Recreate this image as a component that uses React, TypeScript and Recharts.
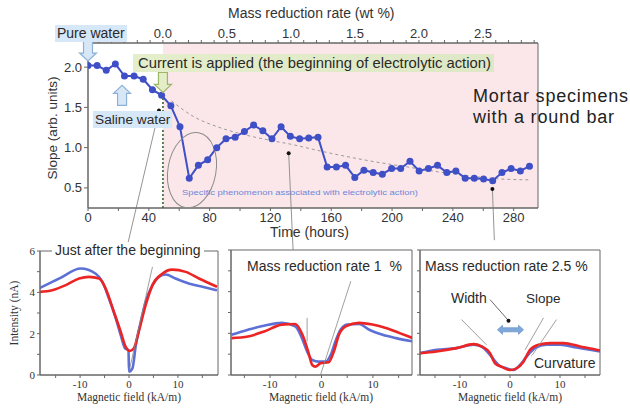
import {
  ComposedChart,
  LineChart,
  Line,
  XAxis,
  YAxis,
  ReferenceArea,
  ReferenceLine,
  ReferenceDot,
} from "recharts";

// ---- top chart data ----
const timeHours = [
  0, 6, 12, 18, 24, 30.3, 36.3, 42.4, 48.4, 54.5, 60.5, 66.6, 72.6, 78.7, 84.7, 90.8, 96.8,
  102.9, 108.9, 115, 121, 127, 133.1, 139.2, 145.2, 151.3, 157.3, 163.4, 169.4, 175.5, 181.5,
  187.6, 193.6, 199.7, 205.7, 211.8, 217.8, 223.9, 229.9, 236, 242, 248.1, 254.1, 260.2, 266.2,
  272.3, 278.3, 284.4, 290.4,
];
const slopeValues = [
  2.02, 2.02, 1.96, 2.04, 1.89, 1.89, 1.85, 1.72, 1.65, 1.52, 1.26, 0.62, 0.78, 0.85, 1.0, 1.11,
  1.13, 1.2, 1.28, 1.21, 1.11, 1.26, 1.14, 1.11, 1.12, 1.13, 0.76, 0.76, 0.78, 0.63, 0.72, 0.69,
  0.67, 0.74, 0.74, 0.83, 0.71, 0.74, 0.78, 0.69, 0.71, 0.62, 0.62, 0.61, 0.59, 0.69, 0.74, 0.71,
  0.77,
];
const trendHours = [55, 70, 85, 103, 120, 134, 150, 170, 190, 210, 230, 250, 272, 290];
const trendValues = [1.58, 1.38, 1.26, 1.16, 1.09, 1.04, 0.97, 0.89, 0.82, 0.76, 0.7, 0.65, 0.61, 0.6];

const timeTicks = [0, 20, 40, 60, 80, 100, 120, 140, 160, 180, 200, 220, 240, 260, 280];
const timeLabels = [0, 40, 80, 120, 160, 200, 240, 280];
const slopeTicks = [0.5, 1.0, 1.5, 2.0];
const massTicks = [
  -0.5, -0.4, -0.3, -0.2, -0.1, 0, 0.1, 0.2, 0.3, 0.4, 0.5, 0.6, 0.7, 0.8, 0.9, 1.0, 1.1, 1.2, 1.3,
  1.4, 1.5, 1.6, 1.7, 1.8, 1.9, 2.0, 2.1, 2.2, 2.3, 2.4, 2.5, 2.6, 2.7, 2.8, 2.9,
];
const massLabels = [0, 0.5, 1.0, 1.5, 2.0, 2.5];

// ---- bottom panels data ----
const p1BlueX = [-18.4, -14, -9.9, -6.8, -5.4, -4.1, -2.7, -1.7, -0.8, -0.1, 0, 0.7, 1.4, 2.4, 3.4, 4.8, 6.1, 7.5, 9.5, 12.2, 15, 18];
const p1BlueY = [4.19, 4.7, 5.15, 4.9, 4.5, 3.7, 2.74, 1.93, 1.29, 1.2, 0.16, 0.32, 1.45, 2.57, 3.54, 4.35, 4.75, 4.86, 4.67, 4.43, 4.27, 4.1];
const p1RedX = [-18.4, -15.7, -12.9, -10.2, -8.2, -6.1, -4.8, -3.1, -1.7, -0.7, 0.2, 1.0, 2.0, 3.4, 4.8, 6.8, 8.8, 11.6, 14.3, 18];
const p1RedY = [4.02, 4.1, 4.35, 4.67, 4.75, 4.67, 4.19, 3.06, 2.1, 1.37, 1.16, 1.29, 2.1, 3.38, 4.35, 4.9, 5.1, 4.99, 4.67, 4.27];

const p2BlueX = [-17.5, -14.3, -11, -7.7, -5.1, -3.8, -2.8, -1.8, -0.5, 0.8, 1.8, 2.7, 3.7, 5.0, 7.3, 9.3, 11.9, 14.5, 17.8];
const p2BlueY = [1.93, 2.17, 2.38, 2.5, 2.33, 1.77, 1.13, 0.72, 0.64, 0.64, 0.97, 1.61, 2.17, 2.42, 2.45, 2.17, 1.93, 1.77, 1.61];
const p2RedX = [-17.5, -14.3, -11, -7.7, -5.1, -3.7, -2.5, -1.8, -1.2, -0.2, 1.4, 2.4, 3.4, 4.7, 7.3, 9.9, 12.5, 15.2, 17.8];
const p2RedY = [1.77, 1.85, 2.1, 2.42, 2.45, 1.93, 1.05, 0.48, 0.4, 0.56, 0.61, 1.13, 1.93, 2.33, 2.5, 2.42, 2.26, 2.01, 1.77];

const p3BlueX = [-18, -14.7, -10.7, -7.3, -5.7, -4, -2.3, -0.7, 0.7, 2, 3.3, 5, 7.3, 10, 13.3, 16, 18];
const p3BlueY = [1.05, 1.21, 1.29, 1.45, 1.37, 0.97, 0.48, 0.32, 0.24, 0.48, 0.88, 1.29, 1.45, 1.45, 1.32, 1.21, 1.13];
const p3RedX = [-18, -14.7, -10.7, -7.3, -5.7, -4, -3, -1.7, 0, 1.3, 2.7, 4, 5.7, 8, 10.7, 14, 17.3, 18];
const p3RedY = [1.05, 1.13, 1.29, 1.48, 1.37, 1.05, 0.56, 0.4, 0.24, 0.32, 0.64, 1.21, 1.45, 1.53, 1.53, 1.37, 1.21, 1.18];

const fieldTicks = [-15, -10, -5, 0, 5, 10, 15];
const fieldLabels = [-10, 0, 10];
const intensityTicks = [0, 1, 2, 3, 4, 5, 6];
const intensityLabels = [0, 2, 4, 6];

const SANS = "'Liberation Sans', Arial, sans-serif";
const SERIF = "'Liberation Serif', 'Times New Roman', serif";
const DOT_BLUE = "#3f4fc6";
const PANEL_BLUE = "#5d70d6";
const PANEL_RED = "#ec2424";
const AXIS = "#666";
const ANNOT = "#888";

const toPoints = (xs: number[], ys: number[]) => xs.map((x, i) => ({ x, y: ys[i] }));

const slopeData = timeHours.map((t, i) => ({ t, slope: slopeValues[i] }));
const trendData = trendHours.map((t, i) => ({ t, trend: trendValues[i] }));
// empty series only so that the top (mass) axis gets drawn
const massData = massLabels.map((m) => ({ m, none: null }));

const blockArrow = (dir: "up" | "down", fill: string, stroke: string) => (p: any) => {
  const { cx, cy } = p;
  const s = dir === "down" ? 1 : -1;
  const pts = [
    [-4.5, -10], [4.5, -10], [4.5, 2], [8.5, 2], [0, 10], [-8.5, 2], [-4.5, 2],
  ]
    .map(([x, y]) => `${cx + x},${cy + s * y}`)
    .join(" ");
  return <polygon points={pts} fill={fill} stroke={stroke} strokeWidth={1.2} />;
};

const smallDot = (p: any) => <circle cx={p.cx} cy={p.cy} r={2} fill="#111" />;

const tickFont = { fontSize: 13, fill: "#333", fontFamily: SANS };
const serifTick = { fontSize: 11, fill: "#333", fontFamily: SERIF };

function TopChart() {
  return (
    <ComposedChart
      width={630}
      height={250}
      data={slopeData}
      margin={{ top: 18, right: 92, bottom: 17, left: 28 }}
    >
      <XAxis
        xAxisId="mass"
        dataKey="m"
        orientation="top"
        type="number"
        domain={[-0.585, 2.93]}
        allowDataOverflow
        ticks={massTicks}
        interval={0}
        tickFormatter={(v: number) =>
          massLabels.some((m) => Math.abs(m - v) < 1e-6) ? v.toFixed(1) : ""
        }
        height={25}
        tickSize={3}
        axisLine={{ stroke: AXIS }}
        tickLine={{ stroke: AXIS }}
        tick={tickFont}
      />
      <XAxis
        dataKey="t"
        type="number"
        domain={[0, 296]}
        allowDataOverflow
        ticks={timeTicks}
        interval={0}
        tickFormatter={(v: number) => (timeLabels.includes(v) ? String(v) : "")}
        height={25}
        tickSize={3}
        axisLine={{ stroke: AXIS }}
        tickLine={{ stroke: AXIS }}
        tick={tickFont}
      />
      <YAxis
        type="number"
        domain={[0.25, 2.3]}
        allowDataOverflow
        ticks={slopeTicks}
        interval={0}
        tickFormatter={(v: number) => v.toFixed(1)}
        width={60}
        tickSize={4}
        axisLine={{ stroke: AXIS }}
        tickLine={{ stroke: AXIS }}
        tick={tickFont}
      />
      <ReferenceArea x1={49.3} x2={296} y1={0.25} y2={2.3} fill="#fbe7ea" fillOpacity={1} stroke="none" />
      <ReferenceArea x1={0} x2={296} y1={0.25} y2={2.3} fill="none" stroke={AXIS} strokeWidth={1} />
      <ReferenceLine
        segment={[{ x: 49.3, y: 0.25 }, { x: 49.3, y: 1.62 }]}
        stroke="#2f5a22"
        strokeDasharray="2 2"
        strokeWidth={1.5}
      />
      <Line
        xAxisId="mass"
        data={massData}
        dataKey="none"
        stroke="none"
        dot={false}
        legendType="none"
        isAnimationActive={false}
      />
      <Line
        data={trendData}
        dataKey="trend"
        type="monotone"
        stroke="#9a9a9a"
        strokeWidth={1}
        strokeDasharray="3 3"
        dot={false}
        isAnimationActive={false}
      />
      <ReferenceDot
        x={68.4}
        y={0.72}
        r={1}
        shape={(p: any) => (
          <ellipse
            cx={p.cx}
            cy={p.cy}
            rx={24}
            ry={38}
            transform={`rotate(10 ${p.cx} ${p.cy})`}
            fill="none"
            stroke="#8c8c8c"
            strokeWidth={1}
          />
        )}
      />
      <ReferenceDot
        x={61.8}
        y={0.447}
        r={1}
        shape={(p: any) => (
          <text
            x={p.cx}
            y={p.cy + 3}
            fontSize={8}
            fontFamily={SANS}
            fill="#6b88d8"
            textLength={236}
            lengthAdjust="spacingAndGlyphs"
          >
            Specific phenomenon associated with electrolytic action)
          </text>
        )}
      />
      <Line
        dataKey="slope"
        type="linear"
        stroke={DOT_BLUE}
        strokeWidth={2}
        dot={{ r: 3.5, fill: DOT_BLUE, stroke: DOT_BLUE, strokeWidth: 0 }}
        isAnimationActive={false}
      />
      {/* leader lines to the bottom panels */}
      <ReferenceLine
        segment={[{ x: 46.7, y: 1.46 }, { x: 26.3, y: -0.185 }]}
        ifOverflow="visible"
        stroke={ANNOT}
        strokeWidth={0.9}
      />
      <ReferenceDot x={46.7} y={1.46} r={2} ifOverflow="visible" shape={smallDot} />
      <ReferenceLine
        segment={[{ x: 132, y: 0.93 }, { x: 134.9, y: -0.27 }]}
        ifOverflow="visible"
        stroke={ANNOT}
        strokeWidth={0.9}
      />
      <ReferenceDot x={132} y={0.93} r={2} ifOverflow="visible" shape={smallDot} />
      <ReferenceLine
        segment={[{ x: 266, y: 0.485 }, { x: 267.3, y: -0.15 }]}
        ifOverflow="visible"
        stroke={ANNOT}
        strokeWidth={0.9}
      />
      <ReferenceDot x={266} y={0.485} r={2} ifOverflow="visible" shape={smallDot} />
      {/* arrows */}
      <ReferenceDot x={0} y={2.2} r={1} ifOverflow="visible" shape={blockArrow("down", "#d7e7f6", "#8db1d8")} />
      <ReferenceDot x={22.4} y={1.65} r={1} ifOverflow="visible" shape={blockArrow("up", "#d7e7f6", "#8db1d8")} />
      <ReferenceDot x={49.3} y={1.81} r={1} ifOverflow="visible" shape={blockArrow("down", "#e3edc8", "#9db566")} />
    </ComposedChart>
  );
}

interface PanelProps {
  left: number;
  width: number;
  marginLeft: number;
  marginRight: number;
  marginTop: number;
  yWidth: number;
  domain: [number, number];
  blue: { x: number; y: number }[];
  red: { x: number; y: number }[];
  showYLabels: boolean;
  children?: any;
}

function Panel(props: PanelProps) {
  const { left, width, marginLeft, marginRight, marginTop, yWidth, domain, blue, red, showYLabels } = props;
  return (
    <div style={{ position: "absolute", left, top: 240 }}>
      <LineChart
        width={width}
        height={170}
        margin={{ top: marginTop, right: marginRight, bottom: 5, left: marginLeft }}
      >
        <XAxis
          dataKey="x"
          type="number"
          domain={domain}
          allowDataOverflow
          ticks={fieldTicks}
          interval={0}
          tickFormatter={(v: number) => (fieldLabels.includes(v) ? String(v) : "")}
          height={30}
          tickSize={3}
          axisLine={{ stroke: AXIS }}
          tickLine={{ stroke: AXIS }}
          tick={serifTick}
        />
        <YAxis
          type="number"
          domain={[0, 6]}
          allowDataOverflow
          ticks={intensityTicks}
          interval={0}
          tickFormatter={(v: number) => (showYLabels && intensityLabels.includes(v) ? String(v) : "")}
          width={yWidth}
          tickSize={3}
          axisLine={{ stroke: AXIS }}
          tickLine={{ stroke: AXIS }}
          tick={serifTick}
        />
        <ReferenceArea x1={domain[0]} x2={domain[1]} y1={0} y2={6} fill="none" stroke={AXIS} strokeWidth={1} />
        <Line data={blue} dataKey="y" type="monotone" stroke={PANEL_BLUE} strokeWidth={2.6} dot={false} isAnimationActive={false} />
        <Line data={red} dataKey="y" type="monotone" stroke={PANEL_RED} strokeWidth={2.6} dot={false} isAnimationActive={false} />
        {props.children}
      </LineChart>
    </div>
  );
}

const abs = (style: any) => ({ position: "absolute" as const, whiteSpace: "nowrap" as const, ...style });

export default function App() {
  return (
    <div
      style={{
        position: "absolute",
        left: 0,
        top: 0,
        width: 630,
        height: 410,
        overflow: "hidden",
        background: "#fff",
        fontFamily: SANS,
        color: "#2a2a2a",
      }}
    >
      <div style={{ position: "absolute", left: 0, top: 0 }}>
        <TopChart />
      </div>

      <Panel
        left={0}
        width={222}
        marginLeft={12}
        marginRight={4}
        marginTop={11}
        yWidth={28}
        domain={[-18.2, 18.2]}
        blue={toPoints(p1BlueX, p1BlueY)}
        red={toPoints(p1RedX, p1RedY)}
        showYLabels
      >
        <ReferenceLine segment={[{ x: 4.8, y: 5.23 }, { x: 0, y: 0.16 }]} stroke={ANNOT} strokeWidth={0.8} />
      </Panel>
      <Panel
        left={216}
        width={200}
        marginLeft={5}
        marginRight={4}
        marginTop={10}
        yWidth={10}
        domain={[-17.6, 17.6]}
        blue={toPoints(p2BlueX, p2BlueY)}
        red={toPoints(p2RedX, p2RedY)}
        showYLabels={false}
      >
        <ReferenceLine segment={[{ x: 5.7, y: 4.5 }, { x: -0.2, y: 0 }]} stroke={ANNOT} strokeWidth={0.8} />
        <ReferenceLine segment={[{ x: -2.8, y: 2.74 }, { x: -2.8, y: 1.6 }]} stroke={ANNOT} strokeWidth={0.8} />
      </Panel>
      <Panel
        left={405}
        width={200}
        marginLeft={5}
        marginRight={5}
        marginTop={10}
        yWidth={10}
        domain={[-18, 18]}
        blue={toPoints(p3BlueX, p3BlueY)}
        red={toPoints(p3RedX, p3RedY)}
        showYLabels={false}
      >
        <ReferenceLine segment={[{ x: -9.7, y: 2.66 }, { x: -4.7, y: 1.45 }]} stroke={ANNOT} strokeWidth={0.8} />
        <ReferenceLine segment={[{ x: 6.7, y: 2.74 }, { x: 3.0, y: 1.2 }]} stroke={ANNOT} strokeWidth={0.8} />
        <ReferenceLine segment={[{ x: 9.3, y: 2.66 }, { x: 4.3, y: 0.9 }]} stroke={ANNOT} strokeWidth={0.8} />
        <ReferenceLine segment={[{ x: -4, y: 3.62 }, { x: -0.3, y: 2.61 }]} stroke="#444" strokeWidth={0.8} />
        <ReferenceDot x={-0.3} y={2.61} r={2} shape={smallDot} />
        <ReferenceDot
          x={0.1}
          y={2.17}
          r={1}
          shape={(p: any) => {
            const { cx, cy } = p;
            const pts = [
              [-13, 0], [-8, -4.5], [-8, -2], [8, -2], [8, -4.5], [13, 0], [8, 4.5], [8, 2], [-8, 2], [-8, 4.5],
            ]
              .map(([x, y]) => `${cx + x},${cy + y}`)
              .join(" ");
            return <polygon points={pts} fill="#7ea8da" stroke="#6d96cc" strokeWidth={0.8} />;
          }}
        />
      </Panel>

      {/* top chart texts */}
      <div style={abs({ left: 228, top: 5, fontSize: 14, color: "#333" })}>Mass reduction rate (wt %)</div>
      <div style={abs({ left: 270, top: 224, fontSize: 14, color: "#333" })}>Time (hours)</div>
      <div
        style={abs({
          left: 52,
          top: 128,
          fontSize: 13.5,
          color: "#333",
          transform: "translate(-50%, -50%) rotate(-90deg)",
        })}
      >
        Slope (arb. units)
      </div>
      <div style={abs({ left: 55, top: 25, fontSize: 14, padding: "0 2px", background: "#d6e7f7", lineHeight: "17px" })}>
        Pure water
      </div>
      <div style={abs({ left: 93, top: 111, fontSize: 13.7, padding: "0 2px", background: "#d6e7f7", lineHeight: "17px" })}>
        Saline water
      </div>
      <div
        style={abs({
          left: 133,
          top: 54,
          fontSize: 14.8,
          padding: "0 3px 0 5px",
          background: "linear-gradient(90deg, #e4eecb, #dfe8c6)",
          lineHeight: "18px",
        })}
      >
        Current is applied (the beginning of electrolytic action)
      </div>
      <div style={abs({ left: 473, top: 86, fontSize: 18, letterSpacing: 0.8, lineHeight: "21px", color: "#222" })}>
        Mortar specimens
        <br />
        with a round bar
      </div>

      {/* bottom panel texts */}
      <div style={abs({ left: 52, top: 242, fontSize: 14, padding: "0 3px", background: "#fff", lineHeight: "17px" })}>
        Just after the beginning
      </div>
      <div style={abs({ left: 247, top: 258, fontSize: 14, lineHeight: "17px" })}>Mass reduction rate 1&nbsp;&nbsp;%</div>
      <div style={abs({ left: 425, top: 258, fontSize: 14, lineHeight: "17px" })}>Mass reduction rate 2.5 %</div>
      <div style={abs({ left: 451, top: 290, fontSize: 14, lineHeight: "17px" })}>Width</div>
      <div style={abs({ left: 526, top: 290, fontSize: 13.5, lineHeight: "17px" })}>Slope</div>
      <div style={abs({ left: 532, top: 355, fontSize: 14, padding: "0 2px", background: "#fff", lineHeight: "17px" })}>
        Curvature
      </div>
      <div
        style={abs({
          left: 14,
          top: 313,
          fontSize: 11.5,
          fontFamily: SERIF,
          color: "#333",
          transform: "translate(-50%, -50%) rotate(-90deg)",
        })}
      >
        Intensity (nA)
      </div>
      <div style={abs({ left: 129, top: 391, fontSize: 11.5, fontFamily: SERIF, color: "#333", transform: "translateX(-50%)" })}>
        Magnetic field (kA/m)
      </div>
      <div style={abs({ left: 321, top: 391, fontSize: 11.5, fontFamily: SERIF, color: "#333", transform: "translateX(-50%)" })}>
        Magnetic field (kA/m)
      </div>
      <div style={abs({ left: 510, top: 391, fontSize: 11.5, fontFamily: SERIF, color: "#333", transform: "translateX(-50%)" })}>
        Magnetic field (kA/m)
      </div>
    </div>
  );
}
